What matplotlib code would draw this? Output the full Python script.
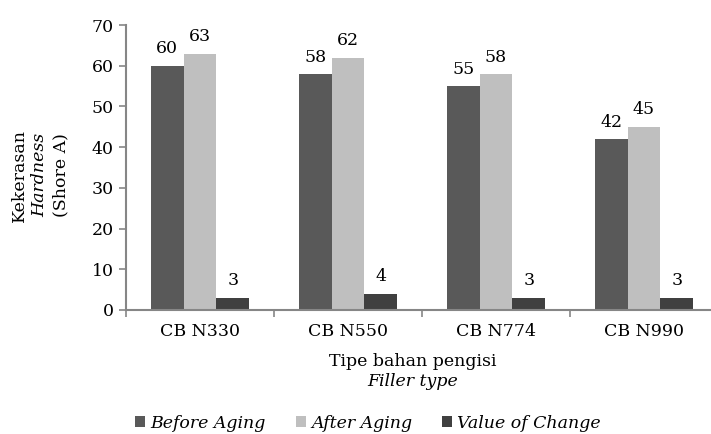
import matplotlib
matplotlib.use("Agg")
import matplotlib.pyplot as plt
import numpy as np
from matplotlib.patches import Patch

plt.rcParams['font.family'] = ['DejaVu Serif']
FS = 12.5

# data
categories = ['CB N330', 'CB N550', 'CB N774', 'CB N990']
before_aging = [60, 58, 55, 42]
after_aging = [63, 62, 58, 45]
value_change = [3, 4, 3, 3]

series = [
    ('Before Aging', before_aging, '#595959'),
    ('After Aging', after_aging, '#bfbfbf'),
    ('Value of Change', value_change, '#404040'),
]

W, H = 711, 434
fig = plt.figure(figsize=(W / 100, H / 100), dpi=100)
# axes runs a little past the right edge of the figure
ax = fig.add_axes([126 / W, (H - 310) / H, 592 / W, 285 / H])

x = np.arange(len(categories))
bw = 0.222
for i, (name, vals, col) in enumerate(series):
    pos = x + (i - 1) * bw
    bars = ax.bar(pos, vals, width=bw, color=col, edgecolor='none')
    for b, v in zip(bars, vals):
        ax.annotate(str(v), (b.get_x() + b.get_width() / 2, v),
                    xytext=(0, 6), textcoords='offset points',
                    ha='center', va='bottom', fontsize=FS)

ax.set_xlim(-0.5, len(categories) - 0.5)
ax.set_ylim(0, 70)
ax.set_yticks(range(0, 71, 10))
ax.set_xticks(x)
ax.set_xticklabels(categories, fontsize=FS)
ax.tick_params(axis='x', length=0, pad=9)
ax.tick_params(axis='y', labelsize=FS, length=5, color='#868686', width=1.2, pad=4)
# group separators on the category axis
ax.set_xticks(np.arange(-0.5, len(categories), 1), minor=True)
ax.tick_params(axis='x', which='minor', length=5, color='#868686', width=1.2)

for s in ['top', 'right']:
    ax.spines[s].set_visible(False)
for s in ['left', 'bottom']:
    ax.spines[s].set_color('#868686')
    ax.spines[s].set_linewidth(1.5)

# y axis title, three lines
yc = 1 - 175 / H
fig.text(19 / W, yc, 'Kekerasan', rotation=90, ha='center', va='center', fontsize=FS)
fig.text(40 / W, yc, 'Hardness', rotation=90, ha='center', va='center', fontsize=FS, style='italic')
fig.text(61 / W, yc, '(Shore A)', rotation=90, ha='center', va='center', fontsize=FS)

# x axis title
fig.text(413 / W, 1 - 362 / H, 'Tipe bahan pengisi', ha='center', va='center', fontsize=FS)
fig.text(413 / W, 1 - 381 / H, 'Filler type', ha='center', va='center', fontsize=FS, style='italic')

handles = [Patch(facecolor=c, edgecolor='none') for _, _, c in series]
leg = fig.legend(handles, [n for n, _, _ in series], loc='center',
                 bbox_to_anchor=(368 / W, 1 - 423 / H), ncol=3, frameon=False,
                 handlelength=0.6, handleheight=0.6, handletextpad=0.3,
                 columnspacing=1.7, prop={'size': FS, 'style': 'italic'})

fig.savefig('out.png', dpi=100)
